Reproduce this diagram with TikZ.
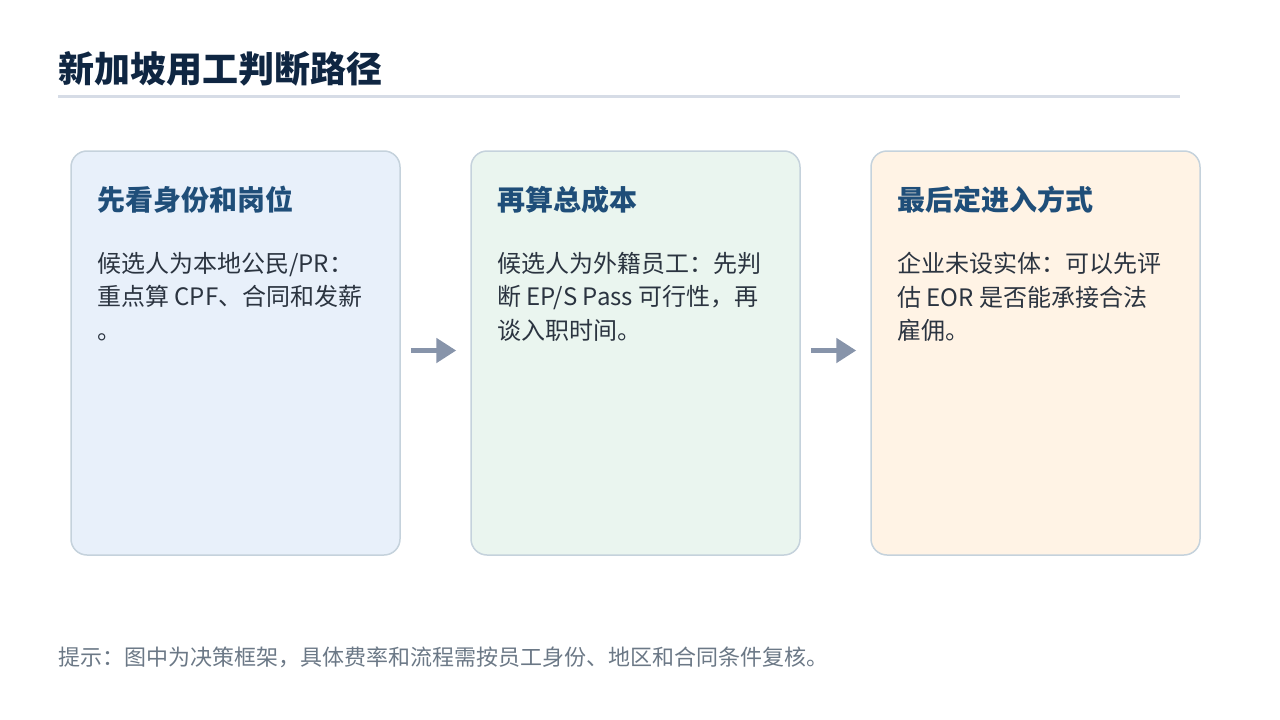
\documentclass[tikz,border=0pt]{standalone}
\usepackage{fontspec}
\setmainfont{Noto Sans CJK SC}
\usepackage{tikz}
\definecolor{sgnavy}{HTML}{0F2642}
\definecolor{sghead}{HTML}{1F4E79}
\definecolor{sgtext}{HTML}{2B3440}
\definecolor{sgnote}{HTML}{6B7886}
\definecolor{sgrule}{HTML}{D6DCE6}
\definecolor{sgedge}{HTML}{C5D2DC}
\definecolor{sgblue}{HTML}{E8F0FA}
\definecolor{sggreen}{HTML}{EAF5EF}
\definecolor{sgorange}{HTML}{FFF3E5}
\definecolor{sgarrow}{HTML}{8794AA}
\usetikzlibrary{arrows.meta,positioning}

\begin{document}
\begin{tikzpicture}[x=1pt, y=-1pt,
  bx/.style={rounded corners=16pt, draw=sgedge, line width=1.5pt, minimum width=329pt, minimum height=404pt, inner sep=0pt},
  hd/.style={font=\fontsize{28}{34}\selectfont\bfseries, text=sghead, anchor=west, inner sep=0pt},
  bd/.style={font=\fontsize{24}{33.5}\selectfont, text=sgtext, anchor=north west, align=left, inner sep=0pt},
  flow/.style={-{Triangle[length=20pt, width=24pt]}, line width=5pt, sgarrow, shorten <=10pt, shorten >=14pt}]
\useasboundingbox (0,0) rectangle (1280,720);
% Title
\node[font=\fontsize{36}{40}\selectfont\bfseries, text=sgnavy, anchor=west, inner sep=0pt] (title) at (58,69) {新加坡用工判断路径};
\draw[sgrule, line width=3pt] (58,96) -- (1180,96);
% Steps
\node[bx, fill=sgblue] (see) at (235.5,353) {};
\node[bx, fill=sggreen] (cost) at (635.5,353) {};
\node[bx, fill=sgorange] (entry) at (1035.5,353) {};
\node[hd] (seeh) at (97,200) {先看身份和岗位};
\node[hd] (costh) at (497,200) {再算总成本};
\node[hd] (entryh) at (897,200) {最后定进入方式};
\node[bd] (seet) at (97,252) {候选人为本地公民/PR：\\重点算 CPF、合同和发薪\\。};
\node[bd] (costt) at (497,252) {候选人为外籍员工：先判\\断 EP/S Pass 可行性，再\\谈入职时间。};
\node[bd] (entryt) at (897,252) {企业未设实体：可以先评\\估 EOR 是否能承接合法\\雇佣。};
% Arrows
\draw[flow] ([yshift=2.5pt]see.east) -- ([yshift=2.5pt]cost.west);
\draw[flow] ([yshift=2.5pt]cost.east) -- ([yshift=2.5pt]entry.west);
% Note
\node[font=\fontsize{22}{26}\selectfont, text=sgnote, anchor=west, inner sep=0pt] (note) at (58,657) {提示：图中为决策框架，具体费率和流程需按员工身份、地区和合同条件复核。};
\end{tikzpicture}
\end{document}
